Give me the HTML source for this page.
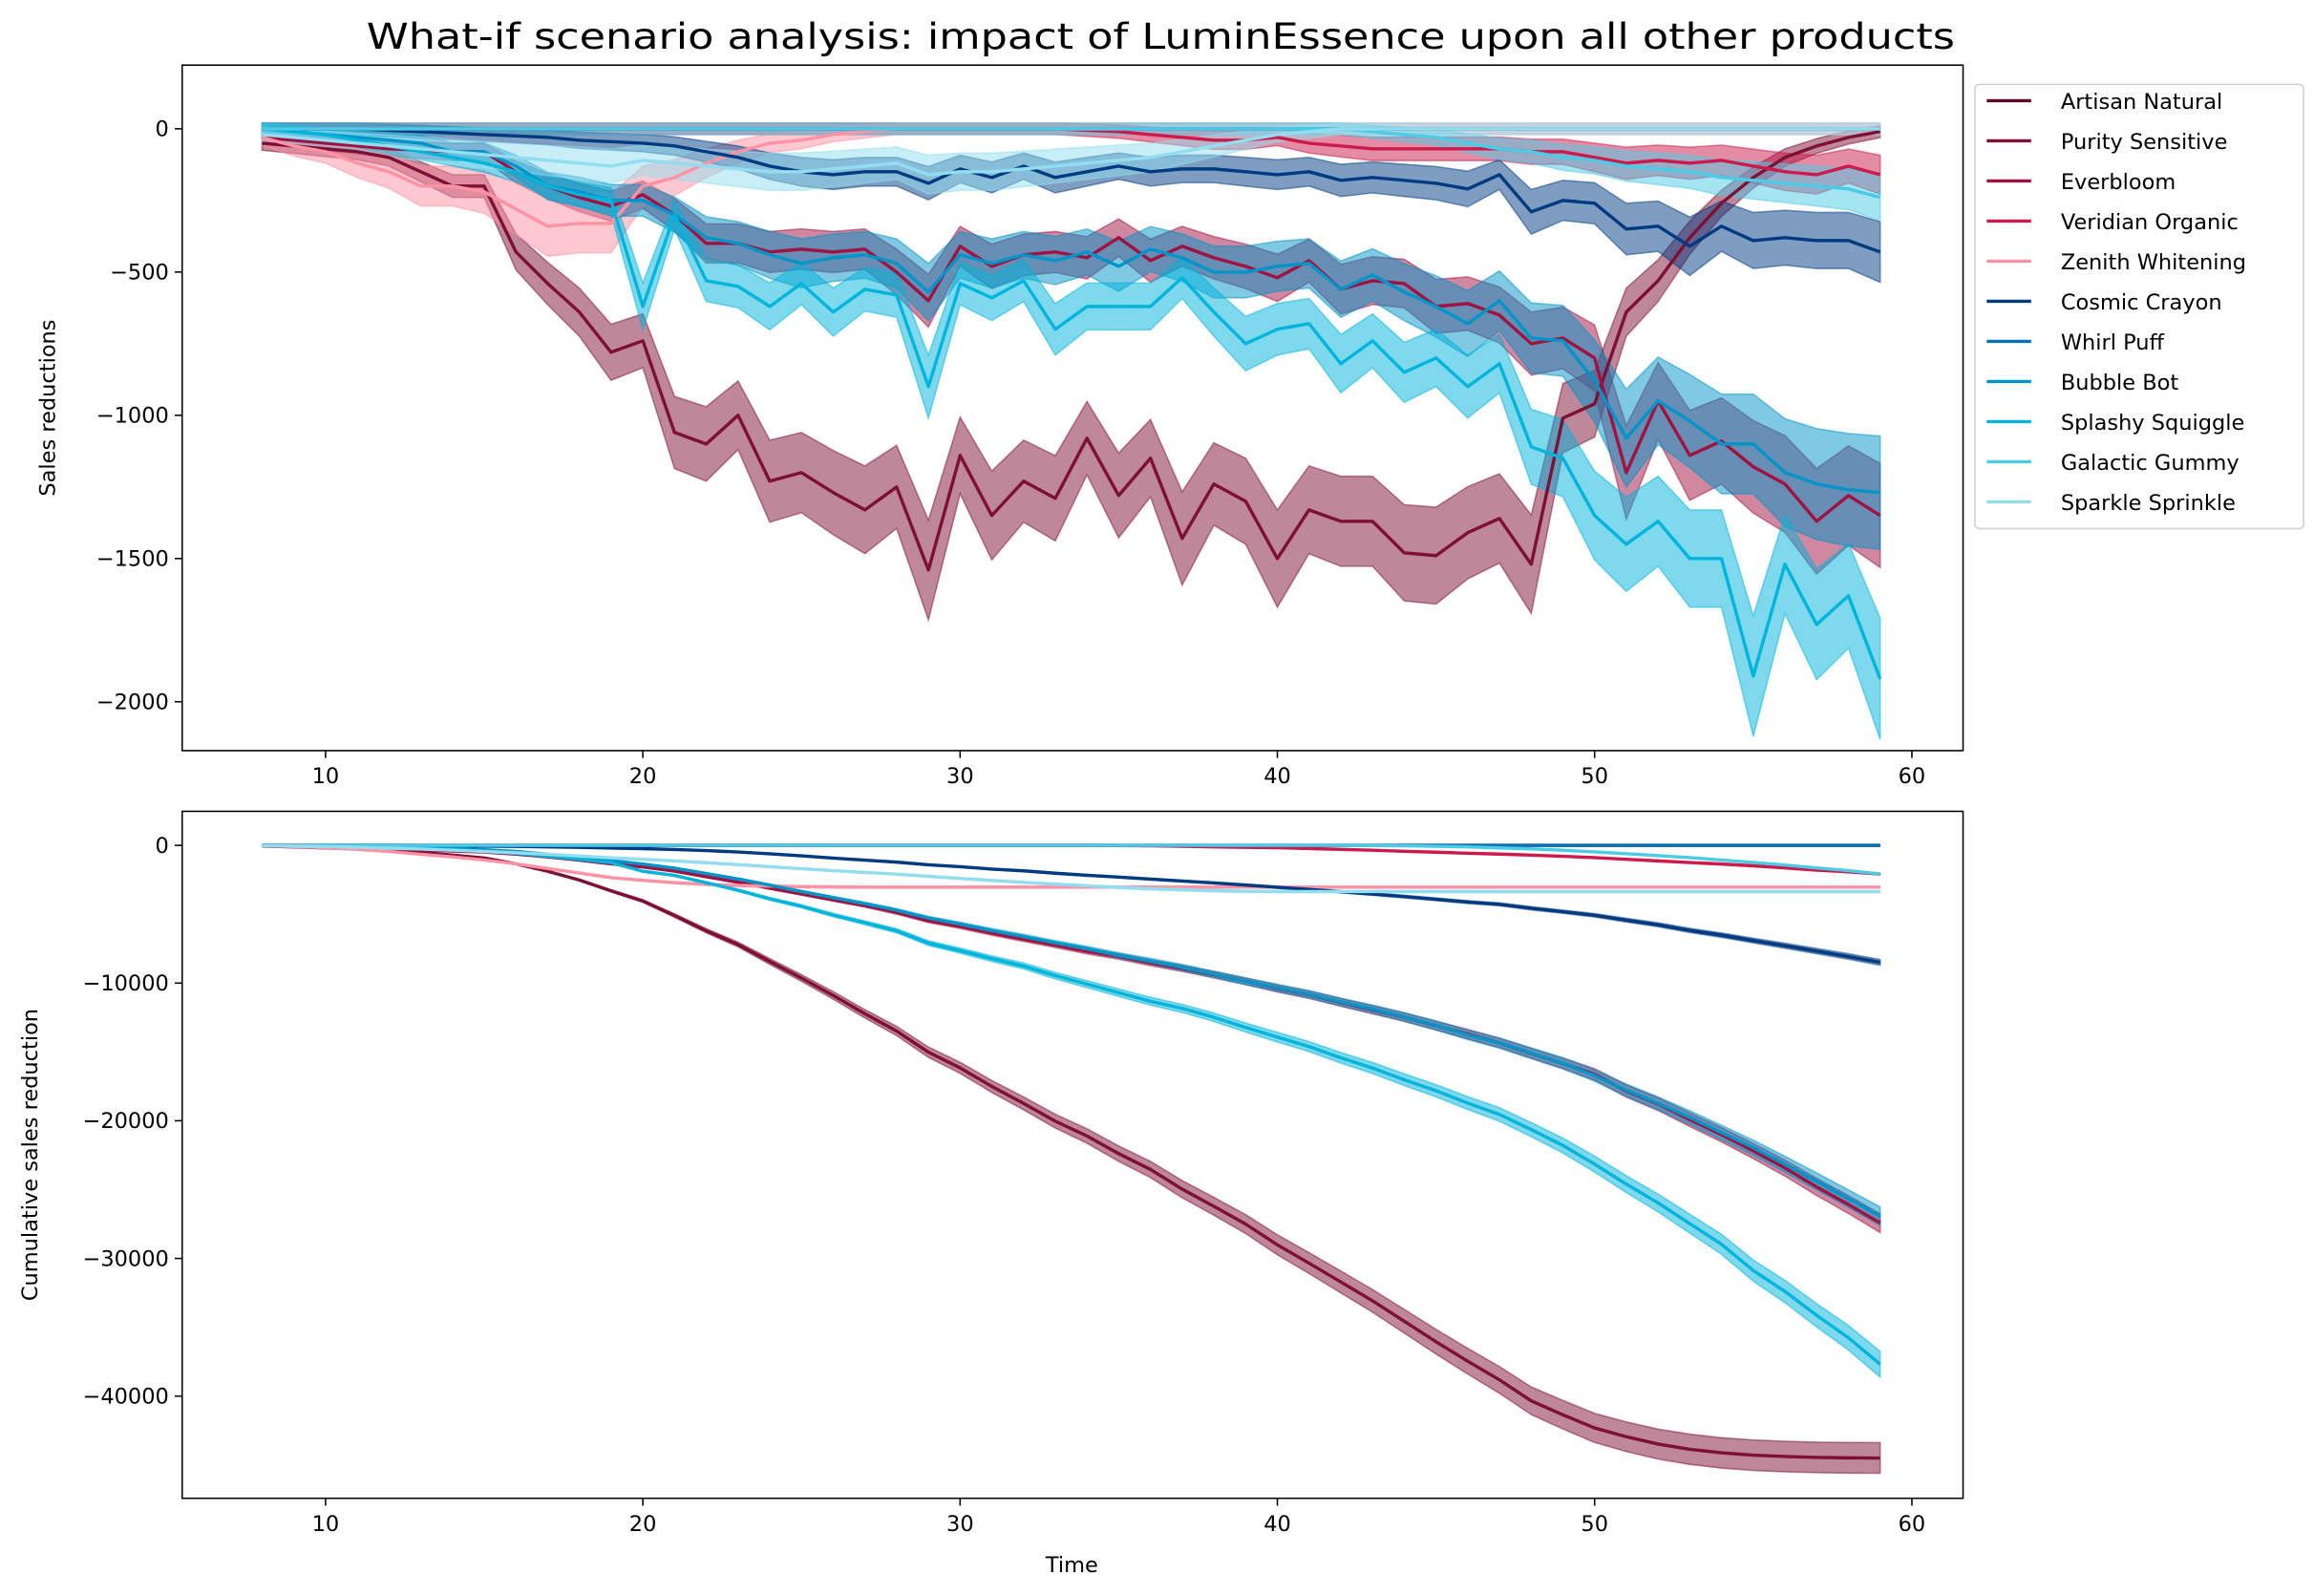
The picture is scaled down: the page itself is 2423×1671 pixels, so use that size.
<!DOCTYPE html>
<html><head><meta charset="utf-8"><style>
html,body{margin:0;padding:0;background:#fff;}
svg{display:block;font-family:"DejaVu Sans","Liberation Sans",sans-serif;}
</style></head><body>
<svg id="fig" width="2423" height="1671" viewBox="0 0 1563 1078">
<rect width="1563" height="1078" fill="#fff"/>
<text x="784" y="33" text-anchor="middle" font-size="24" textLength="1073" lengthAdjust="spacingAndGlyphs">What-if scenario analysis: impact of LuminEssence upon all other products</text>
<g id="top"></g>
<g id="bot"></g>
<g id="legend"></g>
</svg>
<script>
const times=[];for(let t=8;t<=59;t++)times.push(t);
const names=["Artisan Natural","Purity Sensitive","Everbloom","Veridian Organic","Zenith Whitening","Cosmic Crayon","Whirl Puff","Bubble Bot","Splashy Squiggle","Galactic Gummy","Sparkle Sprinkle"];
const colors=["#5c0a28","#7e0f35","#a01242","#cc1a4c","#ff92a4","#003b82","#0072b8","#0094c8","#00b4dc","#4ccbe6","#92def0"];
const artisan=Array(52).fill(0);
const purity=[-50,-60,-70,-80,-100,-150,-200,-200,-430,-540,-640,-780,-740,-1060,-1100,-1000,-1230,-1200,-1270,-1330,-1250,-1540,-1140,-1350,-1230,-1290,-1080,-1280,-1150,-1430,-1240,-1300,-1500,-1330,-1370,-1370,-1480,-1490,-1410,-1360,-1520,-1010,-960,-640,-530,-380,-260,-170,-100,-60,-30,-10];
const everbloom=[-30,-40,-50,-60,-70,-75,-80,-80,-150,-200,-240,-270,-230,-300,-400,-400,-430,-420,-430,-420,-500,-600,-410,-480,-440,-430,-450,-380,-460,-410,-450,-480,-520,-460,-560,-530,-540,-620,-610,-650,-750,-730,-800,-1200,-950,-1140,-1090,-1180,-1240,-1370,-1280,-1350];
const veridian=[0,0,0,0,0,0,0,0,0,0,0,0,0,0,0,0,0,0,0,0,0,0,0,0,0,0,-5,-10,-20,-30,-40,-40,-30,-50,-60,-70,-70,-70,-70,-70,-80,-80,-100,-120,-110,-120,-110,-130,-150,-160,-130,-160];
const zenith=[-30,-60,-80,-120,-150,-200,-200,-220,-280,-340,-330,-330,-200,-170,-120,-80,-50,-40,-20,-10,0,0,0,0,0,0,0,0,0,0,0,0,0,0,0,0,0,0,0,0,0,0,0,0,0,0,0,0,0,0,0,0];
const cosmic=[0,0,0,0,-5,-10,-15,-20,-25,-30,-40,-45,-50,-60,-80,-100,-130,-150,-160,-150,-150,-190,-140,-170,-130,-170,-150,-130,-150,-140,-140,-150,-160,-150,-180,-170,-180,-190,-210,-160,-290,-250,-260,-350,-340,-410,-340,-390,-380,-390,-390,-430];
const whirl=Array(52).fill(0);
const bubble=[0,-10,-20,-30,-40,-50,-80,-80,-130,-200,-220,-250,-250,-300,-380,-400,-440,-470,-450,-440,-470,-570,-440,-470,-440,-460,-430,-480,-420,-450,-500,-500,-480,-470,-560,-510,-570,-620,-680,-600,-730,-740,-880,-1080,-950,-1020,-1100,-1100,-1200,-1240,-1260,-1270];
const splashy=[0,-10,-20,-40,-60,-80,-100,-120,-150,-200,-230,-250,-620,-300,-530,-550,-620,-540,-640,-560,-580,-900,-540,-590,-530,-700,-620,-620,-620,-520,-640,-750,-700,-680,-820,-740,-850,-800,-900,-820,-1110,-1150,-1350,-1450,-1370,-1500,-1500,-1910,-1520,-1730,-1630,-1920];
const galactic=[0,0,0,0,0,0,0,0,0,0,0,0,0,0,0,0,0,0,0,0,0,0,0,0,0,0,0,0,0,0,0,0,0,0,0,-10,-20,-30,-50,-70,-80,-100,-110,-130,-140,-150,-170,-180,-190,-200,-210,-240];
const sparkle=[-20,-30,-40,-50,-60,-70,-80,-90,-100,-110,-120,-130,-110,-120,-130,-140,-150,-150,-140,-130,-120,-160,-150,-150,-140,-130,-120,-110,-100,-80,-60,-40,-20,-10,0,0,0,0,0,0,0,0,0,0,0,0,0,0,0,0,0,0];
const series=[artisan,purity,everbloom,veridian,zenith,cosmic,whirl,bubble,splashy,galactic,sparkle];
const bandFrac=[0,0.1,0.12,0.3,0.25,0.2,0,0.14,0.1,0.25,0.3];
const topTicks=[0,-500,-1000,-1500,-2000];
const botTicks=[0,-10000,-20000,-30000,-40000];
const xTicks=[10,20,30,40,50,60];

const NS="http://www.w3.org/2000/svg";
function mk(tag,attrs,parent){const e=document.createElementNS(NS,tag);for(const k in attrs)e.setAttribute(k,attrs[k]);parent.appendChild(e);return e;}
const X=t=>177+(t-8)*(1270-177)/51;
const Ytop=v=>87-v*(474-87)/2000;
const Ybot=v=>571-v*(943-571)/40000;

function panel(g,data,bands,Y,ticks,top,bottom,ylabel,ylx,showTime){
  mk('rect',{x:123,y:top,width:1203,height:bottom-top,fill:'#fff'},g);
  data.forEach((s,i)=>{
    const up=s.map((v,j)=>X(times[j]).toFixed(1)+','+Y(v+bands[i][j]).toFixed(1));
    const dn=s.map((v,j)=>X(times[j]).toFixed(1)+','+Y(v-bands[i][j]).toFixed(1)).reverse();
    const p=mk('polygon',{points:up.concat(dn).join(' '),fill:colors[i],'fill-opacity':0.5,stroke:colors[i],'stroke-opacity':0.5,'stroke-width':1},g);
    
    
  });
  data.forEach((s,i)=>{
    const l=mk('polyline',{points:s.map((v,j)=>X(times[j]).toFixed(1)+','+Y(v).toFixed(1)).join(' '),fill:'none',stroke:colors[i],'stroke-width':2.2,'stroke-linejoin':'round'},g);
    
    
  });
  const fr=mk('rect',{x:123,y:top,width:1203,height:bottom-top,fill:'none',stroke:'#000','stroke-width':1},g);
  
  
  xTicks.forEach(t=>{
    mk('line',{x1:X(t),x2:X(t),y1:bottom,y2:bottom+5,stroke:'#000'},g);
    const tx=mk('text',{x:X(t),y:bottom+22,'text-anchor':'middle','font-size':14.5},g);
    tx.textContent=t;
    
    
  });
  ticks.forEach(v=>{
    mk('line',{x1:118,x2:123,y1:Y(v),y2:Y(v),stroke:'#000'},g);
    const tx=mk('text',{x:114,y:Y(v)+5,'text-anchor':'end','font-size':14.5},g);
    tx.textContent=v<0?'\u2212'+(-v):v;
    
    
  });
  const cy=(top+bottom)/2;
  const yl=mk('text',{x:ylx,y:cy,'text-anchor':'middle','font-size':14.5,transform:`rotate(-90 ${ylx} ${cy})`},g);
  yl.textContent=ylabel;
  
  
  if(showTime){
    const xl=mk('text',{x:724,y:1062,'text-anchor':'middle','font-size':14.5},g);
    xl.textContent='Time';
    
    
  }
}
const topBands=series.map((s,i)=>s.map(v=>bandFrac[i]>0?(20+bandFrac[i]*Math.abs(v)):0));
panel(document.getElementById('top'),series,topBands,Ytop,topTicks,44,507,'Sales reductions',37,false);
const cum=series.map(s=>{let a=0;return s.map(v=>a+=v);});
const cumBands=cum.map((s,i)=>s.map(v=>bandFrac[i]>0?Math.abs(v)*0.025:0));
panel(document.getElementById('bot'),cum,cumBands,Ybot,botTicks,548,1012,'Cumulative sales reduction',25,true);

const lg=document.getElementById('legend');
const lb=mk('rect',{x:1334,y:57,width:222,height:300,rx:3,fill:'#fff',stroke:'#d0d0d0','stroke-width':1},lg);


names.forEach((n,i)=>{
  const y=68+i*27.1;
  const ln=mk('line',{x1:1342,x2:1372,y1:y,y2:y,stroke:colors[i],'stroke-width':2.2},lg);
  
  
  const t=mk('text',{x:1392,y:y+5.5,'font-size':14.5},lg);
  t.textContent=n;
  
  
});
</script>
</body></html>
